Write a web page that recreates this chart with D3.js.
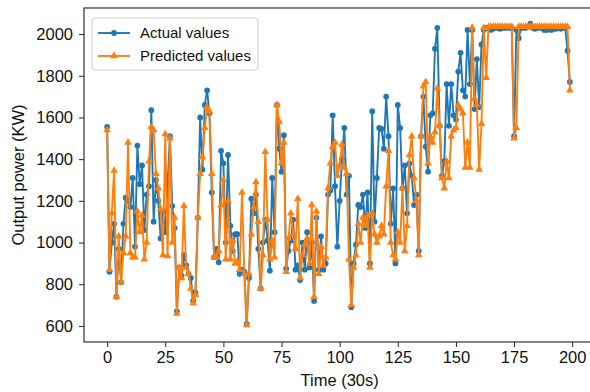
<!DOCTYPE html>
<html>
<head>
<meta charset="utf-8">
<script src="https://cdn.jsdelivr.net/npm/d3@7"></script>
<style>
  body { margin: 0; background: #fff; }
  svg { display: block; font-family: "Liberation Sans", Arial, sans-serif; }
</style>
</head>
<body>
<div id="chart"></div>
<script>
// actual output power, one value per 30 s step
const actualValues = [
  1555, 860, 1000, 1090, 740, 970, 810, 1090, 1215, 1200,
  1170, 1310, 980, 1465, 1280, 1370, 1060, 1230, 1270, 1635,
  1100, 1300, 1200, 1020, 1150, 1050, 1280, 1510, 1175, 1070,
  670, 880, 840, 940, 890, 850, 830, 720, 760, 1120,
  1600, 1350, 1660, 1730, 1620, 1240, 930, 970, 905, 1440,
  1380, 1000, 1420, 1080, 960, 1040, 1040, 850, 870, 860,
  610, 830, 1210, 1140, 1230, 970, 780, 1000, 1110, 1010,
  865, 1310, 1050, 1660, 1450, 1340, 1515, 875, 960, 1010,
  1110, 870, 890, 820, 1000, 870, 1050, 880, 1000, 720,
  1120, 870, 1030, 870, 900, 1230, 1250, 1610, 1270, 980,
  1200, 1400, 1550, 1230, 1320, 690, 900, 990, 1180, 1170,
  1230, 1070, 1240, 900, 1630, 1100, 1310, 1550, 1545, 1450,
  1700, 1510, 1090, 1260, 900, 1660, 1550, 1260, 1370, 1140,
  1380, 1320, 1180, 1230, 960, 1510, 1700, 1460, 1340, 1610,
  1620, 1930, 2030, 1560, 1320, 1390, 1760, 1560, 1760, 1610,
  1590, 1820, 1910, 1730, 1700, 2020, 1760, 2020, 1640, 1880,
  1650, 1950, 2020, 2030, 2030, 2020, 2025, 2030, 2030, 2025,
  2030, 2030, 2030, 2030, 2030, 1510, 2020, 1980, 2030, 2030,
  2030, 2035, 2050, 2030, 2025, 2030, 2030, 2030, 2020, 2020,
  2025, 2020, 2025, 2025, 2030, 2025, 2030, 2030, 1920, 1770
];

// model predictions
const predictedValues = [
  1540, 870, 1140, 1345, 740, 1030, 810, 950, 1030, 1480,
  950, 930, 930, 1150, 1050, 1130, 920, 1000, 1390, 1555,
  1540, 1330, 1260, 1160, 940, 1520, 935, 1500, 1000, 1120,
  660, 880, 830, 1175, 880, 850, 780, 710, 750, 1120,
  1330, 1410, 1550, 1650, 1630, 1330, 930, 930, 960, 1180,
  1300, 920, 1200, 920, 1010, 900, 910, 870, 1240, 850,
  605, 850, 1040, 1170, 1290, 1100, 780, 940, 1435, 1110,
  920, 1010, 930, 1660, 1580, 1380, 1480, 860, 1020, 1140,
  1040, 970, 1210, 830, 940, 990, 1020, 900, 1180, 740,
  1150, 850, 980, 890, 930, 1260, 1380, 1460, 1480, 1320,
  1370, 1470, 1360, 1330, 920, 700, 880, 940, 1090, 1000,
  1120, 1080, 1130, 880, 1140, 1040, 1000, 1030, 1080, 1040,
  1270, 1440, 1000, 940, 920, 1050, 1000, 1260, 960, 1080,
  1420, 1510, 1310, 1200, 940, 1510, 1750, 1770, 1380, 1510,
  1480, 1530, 1740, 1560, 1310, 1260, 1390, 1310, 1510, 1540,
  1550, 1660, 1640, 1620, 1360, 1480, 1360, 2030, 1690, 1660,
  1350, 1570, 2030, 1790, 2035, 2035, 2035, 2035, 2035, 2035,
  2035, 2035, 2035, 2035, 2035, 1500, 1550, 2035, 2035, 2035,
  2035, 2035, 2035, 2035, 2035, 2035, 2035, 2035, 2035, 2035,
  2035, 2035, 2035, 2035, 2035, 2035, 2035, 2035, 2035, 1730
];

const xTicks = [0, 25, 50, 75, 100, 125, 150, 175, 200];
const yTicks = [600, 800, 1000, 1200, 1400, 1600, 1800, 2000];
const seriesNames = ["Actual values", "Predicted values"];

const W = 590, H = 392;
const margin = { top: 8, right: -3, bottom: 50, left: 84 };
const width = W - margin.left - margin.right,
      height = H - margin.top - margin.bottom;

const blue = "#1f77b4", orange = "#ff7f0e";

const svg = d3.select("#chart")
  .append("svg")
  .attr("width", W)
  .attr("height", H);

const g = svg.append("g")
  .attr("transform", `translate(${margin.left},${margin.top})`);

const x = d3.scaleLinear().domain([-9.95, 208.95]).range([0, width]);
const y = d3.scaleLinear().domain([523, 2125]).range([height, 0]);

// axes
const xAxis = g.append("g")
  .attr("transform", `translate(0,${height})`)
  .call(d3.axisBottom(x).tickValues(xTicks).tickFormat(d3.format("d")).tickSize(5).tickPadding(4));
const yAxis = g.append("g")
  .call(d3.axisLeft(y).tickValues(yTicks).tickFormat(d3.format("d")).tickSize(5).tickPadding(6));

[xAxis, yAxis].forEach(a => {
  a.select(".domain").remove();
  a.selectAll("line").attr("stroke", "#222").attr("stroke-width", 1);
  a.selectAll("text").style("font-size", "16.5px").attr("fill", "#111");
});

// frame
g.append("rect")
  .attr("width", width)
  .attr("height", height)
  .attr("fill", "none")
  .attr("stroke", "#333")
  .attr("stroke-width", 1.2);

const line = d3.line()
  .x((d, i) => x(i))
  .y(d => y(d));

const triangle = d3.symbol().type(d3.symbolTriangle).size(26);

// actual series
g.append("path")
  .datum(actualValues)
  .attr("d", line)
  .attr("fill", "none")
  .attr("stroke", blue)
  .attr("stroke-width", 1.9);

g.selectAll(".dot")
  .data(actualValues)
  .join("circle")
  .attr("class", "dot")
  .attr("cx", (d, i) => x(i))
  .attr("cy", d => y(d))
  .attr("r", 2.9)
  .attr("fill", blue);

// predicted series
g.append("path")
  .datum(predictedValues)
  .attr("d", line)
  .attr("fill", "none")
  .attr("stroke", orange)
  .attr("stroke-width", 1.9);

g.selectAll(".tri")
  .data(predictedValues)
  .join("path")
  .attr("class", "tri")
  .attr("d", triangle)
  .attr("transform", (d, i) => `translate(${x(i)},${y(d)})`)
  .attr("fill", orange);

// axis titles
svg.append("text")
  .attr("x", margin.left + x(100))
  .attr("y", 386)
  .attr("text-anchor", "middle")
  .style("font-size", "16.5px")
  .attr("fill", "#111")
  .text("Time (30s)");

svg.append("text")
  .attr("transform", `translate(24,${margin.top + height / 2}) rotate(-90)`)
  .attr("text-anchor", "middle")
  .style("font-size", "16.5px")
  .attr("fill", "#111")
  .text("Output power (KW)");

// legend
const legend = g.append("g").attr("transform", "translate(8,10)");
legend.append("rect")
  .attr("width", 166)
  .attr("height", 52)
  .attr("rx", 3)
  .attr("fill", "#fff")
  .attr("fill-opacity", 0.85)
  .attr("stroke", "#ccc");

seriesNames.forEach((name, i) => {
  const row = legend.append("g").attr("transform", `translate(0,${15 + i * 23})`);
  const c = i === 0 ? blue : orange;
  row.append("line")
    .attr("x1", 6).attr("x2", 38)
    .attr("stroke", c).attr("stroke-width", 1.9);
  if (i === 0) {
    row.append("circle").attr("cx", 22).attr("r", 2.9).attr("fill", c);
  } else {
    row.append("path").attr("d", triangle).attr("transform", "translate(22,0)").attr("fill", c);
  }
  row.append("text")
    .attr("x", 48)
    .attr("dy", "0.35em")
    .style("font-size", "15px")
    .attr("fill", "#111")
    .text(name);
});
</script>
</body>
</html>
